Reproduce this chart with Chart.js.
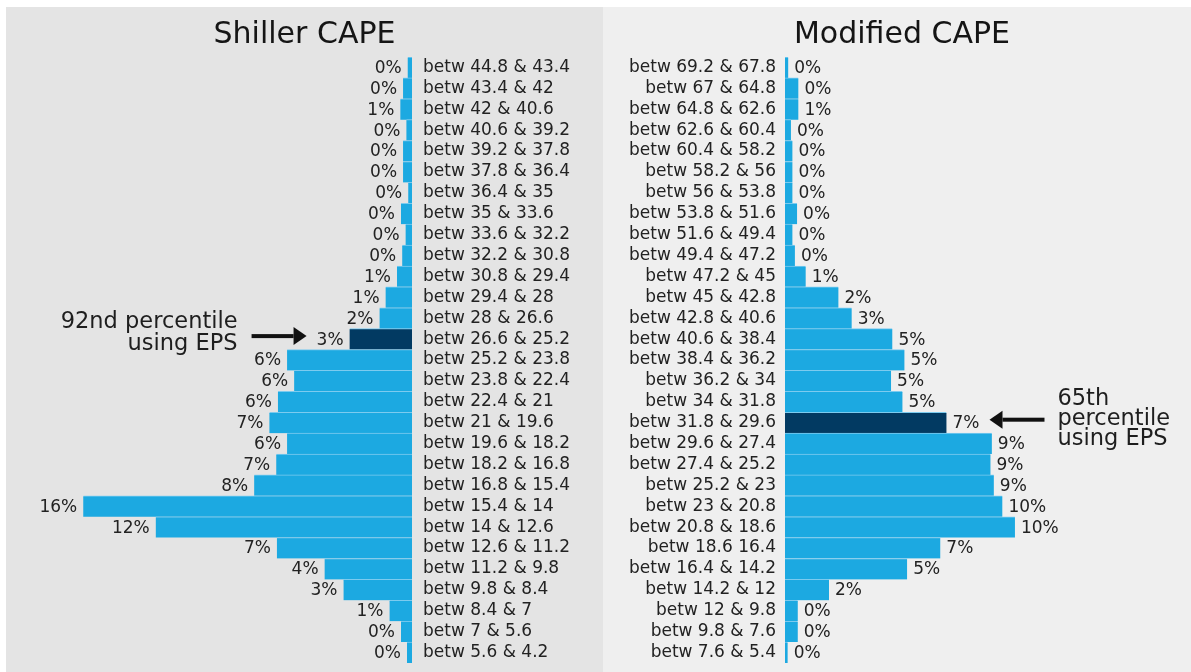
<!DOCTYPE html>
<html>
<head>
<meta charset="utf-8">
<script src="https://cdn.jsdelivr.net/npm/chart.js@4.4.1/dist/chart.umd.min.js"></script>
<style>
  html, body { margin: 0; padding: 0; background: #fff; }
  #wrap { position: relative; width: 1191px; height: 672px; overflow: hidden; }
  .panel { position: absolute; top: 7px; height: 665px; }
  #left { left: 6px; width: 597px; background: #e4e4e4; }
  #right { left: 603px; width: 588px; background: #efefef; }
</style>
</head>
<body>
<div id="wrap">
  <div class="panel" id="left"><canvas id="shiller"></canvas></div>
  <div class="panel" id="right"><canvas id="modified"></canvas></div>
</div>
<script>
// Shiller CAPE buckets, share of months in each bucket (%)
const shillerBins = [
    'betw 44.8 & 43.4', 'betw 43.4 & 42', 'betw 42 & 40.6', 'betw 40.6 & 39.2',
    'betw 39.2 & 37.8', 'betw 37.8 & 36.4', 'betw 36.4 & 35', 'betw 35 & 33.6',
    'betw 33.6 & 32.2', 'betw 32.2 & 30.8', 'betw 30.8 & 29.4', 'betw 29.4 & 28',
    'betw 28 & 26.6', 'betw 26.6 & 25.2', 'betw 25.2 & 23.8', 'betw 23.8 & 22.4',
    'betw 22.4 & 21', 'betw 21 & 19.6', 'betw 19.6 & 18.2', 'betw 18.2 & 16.8',
    'betw 16.8 & 15.4', 'betw 15.4 & 14', 'betw 14 & 12.6', 'betw 12.6 & 11.2',
    'betw 11.2 & 9.8', 'betw 9.8 & 8.4', 'betw 8.4 & 7', 'betw 7 & 5.6', 'betw 5.6 & 4.2'
];
const shillerValues = [
    0.21, 0.43, 0.56, 0.27, 0.43, 0.43, 0.18, 0.53, 0.31, 0.47, 0.72, 1.27, 1.56, 3.0,
    6.0, 5.66, 6.44, 6.85, 6.0, 6.52, 7.58, 15.79, 12.31, 6.49, 4.2, 3.29, 1.08, 0.53, 0.24
];
const shillerPct = [
    '0%', '0%', '1%', '0%', '0%', '0%', '0%', '0%', '0%', '0%', '1%', '1%', '2%', '3%',
    '6%', '6%', '6%', '7%', '6%', '7%', '8%', '16%', '12%', '7%', '4%', '3%', '1%', '0%', '0%'
];
const shillerMark = 13;
const shillerNote = ['92nd percentile', 'using EPS'];

// Modified CAPE buckets
const modifiedBins = [
    'betw 69.2 & 67.8', 'betw 67 & 64.8', 'betw 64.8 & 62.6', 'betw 62.6 & 60.4',
    'betw 60.4 & 58.2', 'betw 58.2 & 56', 'betw 56 & 53.8', 'betw 53.8 & 51.6',
    'betw 51.6 & 49.4', 'betw 49.4 & 47.2', 'betw 47.2 & 45', 'betw 45 & 42.8',
    'betw 42.8 & 40.6', 'betw 40.6 & 38.4', 'betw 38.4 & 36.2', 'betw 36.2 & 34',
    'betw 34 & 31.8', 'betw 31.8 & 29.6', 'betw 29.6 & 27.4', 'betw 27.4 & 25.2',
    'betw 25.2 & 23', 'betw 23 & 20.8', 'betw 20.8 & 18.6', 'betw 18.6 16.4',
    'betw 16.4 & 14.2', 'betw 14.2 & 12', 'betw 12 & 9.8', 'betw 9.8 & 7.6', 'betw 7.6 & 5.4'
];
const modifiedValues = [
    0.15, 0.61, 0.61, 0.27, 0.34, 0.34, 0.34, 0.55, 0.34, 0.45, 0.94, 2.43, 3.03, 4.88,
    5.43, 4.82, 5.34, 7.34, 9.4, 9.34, 9.49, 9.88, 10.45, 7.06, 5.55, 2.0, 0.58, 0.58, 0.12
];
const modifiedPct = [
    '0%', '0%', '1%', '0%', '0%', '0%', '0%', '0%', '0%', '0%', '1%', '2%', '3%', '5%',
    '5%', '5%', '5%', '7%', '9%', '9%', '9%', '10%', '10%', '7%', '5%', '2%', '0%', '0%', '0%'
];
const modifiedMark = 17;
const modifiedNote = ['65th', 'percentile', 'using EPS'];

const FONT = '"DejaVu Sans", sans-serif';
const BLUE = '#1ca9e1';
const NAVY = '#023a62';

function drawArrow(ctx, fromX, toX, y) {
    const dir = toX > fromX ? 1 : -1;
    const head = 13;
    ctx.save();
    ctx.fillStyle = '#111';
    ctx.fillRect(Math.min(fromX, toX - dir * head), y - 2, Math.abs(toX - fromX) - head, 4);
    ctx.beginPath();
    ctx.moveTo(toX, y);
    ctx.lineTo(toX - dir * head, y - 9);
    ctx.lineTo(toX - dir * head, y + 9);
    ctx.closePath();
    ctx.fill();
    ctx.restore();
}

// percent text at the end of each bar plus the "using EPS" callout
function barTextPlugin(pct, mark, note, side, lineStep) {
    return {
        id: 'barText',
        afterDatasetsDraw(chart) {
            const ctx = chart.ctx;
            const bars = chart.getDatasetMeta(0).data;
            ctx.save();
            ctx.font = '17px ' + FONT;
            ctx.fillStyle = '#222';
            ctx.textBaseline = 'middle';
            ctx.textAlign = side === 'left' ? 'right' : 'left';
            bars.forEach((bar, i) => {
                const x = side === 'left' ? bar.x - 6 : bar.x + 6;
                ctx.fillText(pct[i], x, bar.y + 1);
            });

            const bar = bars[mark];
            const w = ctx.measureText(pct[mark]).width;
            const ay = bar.y - 3;
            ctx.font = '22.5px ' + FONT;
            ctx.fillStyle = '#1e1e1e';
            ctx.textBaseline = 'alphabetic';
            const first = -(note.length - 1) * lineStep / 2;
            if (side === 'left') {
                const tip = bar.x - 6 - w - 10;
                const tail = tip - 55;
                drawArrow(ctx, tail, tip, ay);
                ctx.textAlign = 'right';
                note.forEach((t, k) => ctx.fillText(t, tail - 14, bar.y + first + k * lineStep));
            } else {
                const tip = bar.x + 6 + w + 10;
                const tail = tip + 55;
                drawArrow(ctx, tail, tip, ay);
                ctx.textAlign = 'left';
                note.forEach((t, k) => ctx.fillText(t, tail + 13, bar.y + 2 + first + k * lineStep));
            }
            ctx.restore();
        }
    };
}

function makeChart(id, title, bins, values, pct, mark, note, side, xMax, axisWidth, padLeft, lineStep) {
    const canvas = document.getElementById(id);
    const box = canvas.parentNode;
    canvas.width = box.offsetWidth;
    canvas.height = box.offsetHeight;
    return new Chart(canvas, {
        type: 'bar',
        data: {
            labels: bins,
            datasets: [{
                data: values,
                backgroundColor: values.map((v, i) => i === mark ? NAVY : BLUE),
                borderColor: '#7ccbef',
                borderWidth: { top: 1, bottom: 0, left: 0, right: 0 },
                borderSkipped: false,
                categoryPercentage: 1,
                barPercentage: 1
            }]
        },
        options: {
            indexAxis: 'y',
            responsive: false,
            animation: false,
            maintainAspectRatio: false,
            layout: { padding: { bottom: 9, left: padLeft } },
            scales: {
                x: {
                    display: false,
                    min: 0,
                    max: xMax,
                    reverse: side === 'left'
                },
                y: {
                    position: side === 'left' ? 'right' : 'left',
                    grid: { display: false, drawTicks: false },
                    border: { display: false },
                    afterFit: (scale) => {
                        scale.width = axisWidth;
                        scale.paddingTop = 0;
                        scale.paddingBottom = 0;
                    },
                    ticks: {
                        autoSkip: false,
                        crossAlign: 'near',
                        padding: side === 'left' ? 11 : 9,
                        color: '#222',
                        font: { family: FONT, size: 17 }
                    }
                }
            },
            plugins: {
                legend: { display: false },
                tooltip: { enabled: false },
                title: {
                    display: true,
                    text: title,
                    color: '#151515',
                    font: { family: FONT, size: 30, weight: 'normal' },
                    padding: { top: 10, bottom: 4 }
                }
            }
        },
        plugins: [barTextPlugin(pct, mark, note, side, lineStep)]
    });
}

makeChart('shiller', 'Shiller CAPE', shillerBins, shillerValues, shillerPct,
    shillerMark, shillerNote, 'left', 19.5, 191, 0, 22);
makeChart('modified', 'Modified CAPE', modifiedBins, modifiedValues, modifiedPct,
    modifiedMark, modifiedNote, 'right', 18.45, 172, 10, 20);
</script>
</body>
</html>
